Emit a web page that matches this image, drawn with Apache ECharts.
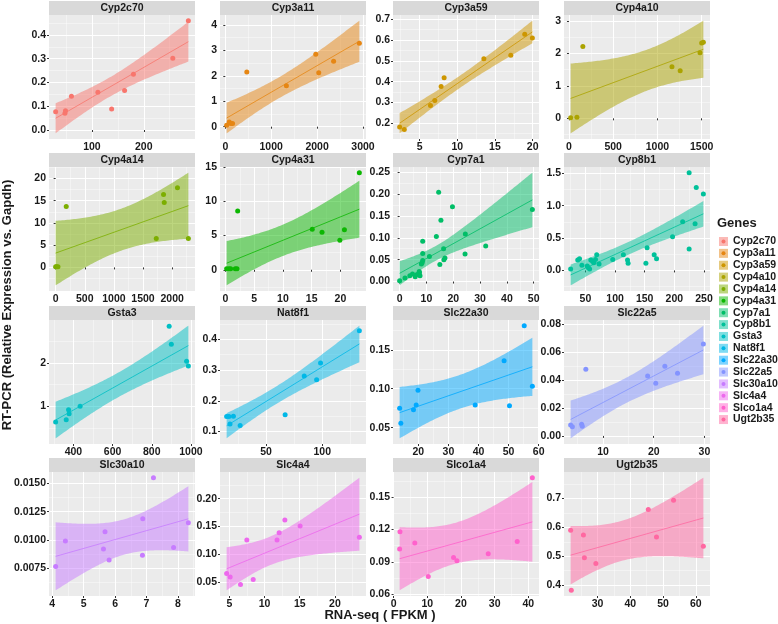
<!DOCTYPE html>
<html><head><meta charset="utf-8">
<script src="https://cdn.jsdelivr.net/npm/echarts@6/dist/echarts.min.js"></script>
<style>html,body{margin:0;padding:0;background:#fff}#c{width:778px;height:624px}</style>
</head><body><div id="c"></div>
<script>
const genes = ['Cyp2c70','Cyp3a11','Cyp3a59','Cyp4a10','Cyp4a14','Cyp4a31','Cyp7a1','Cyp8b1','Gsta3','Nat8f1','Slc22a30','Slc22a5','Slc30a10','Slc4a4','Slco1a4','Ugt2b35'];
const colors = ['#F8766D','#E68613','#CD9600','#ABA300','#7CAE00','#0CB702','#00BE67','#00C19A','#00BFC4','#00B8E7','#00A9FF','#8494FF','#C77CFF','#ED68ED','#FF61CC','#FF68A1'];

const cyp2c70X = [30,48,49,60.5,111.5,138,163,180,256,286];
const cyp2c70Y = [0.077,0.07,0.081,0.142,0.159,0.088,0.166,0.234,0.302,0.46];
const cyp3a11X = [29,86,122,158,468,1331,1971,2036,2360,2921];
const cyp3a11Y = [0.06,0.18,0.13,0.13,2.15,1.61,2.84,2.12,2.57,3.28];
const cyp3a59X = [2.36,2.98,6.45,7.02,7.86,8.26,13.53,17.1,18.95,19.96];
const cyp3a59Y = [0.182,0.17,0.285,0.309,0.376,0.419,0.51,0.527,0.628,0.61];
const cyp4a10X = [19,90,157,1164,1257,1481,1500,1519];
const cyp4a10Y = [0.02,0.03,2.21,1.59,1.46,2.02,2.32,2.34];
const cyp4a14X = [0,15,40,182,1727,1852,1864,2091,2278];
const cyp4a14Y = [0.14,0.14,0.14,13.7,6.5,16.4,14.6,17.9,6.5];
const cyp4a31X = [0.2,0.6,0.9,1.7,2.0,2.12,15.1,16.8,19.9,20.7,23.3];
const cyp4a31Y = [0.15,0.15,0.15,0.15,0.15,8.6,5.94,5.5,4.3,5.84,14.2];
const cyp7a1X = [0,2.0,3.8,4.8,5.8,6.5,7.4,7.3,7.6,8.1,8.4,8.6,8.6,8.6,11.1,13.7,14.55,15.0,15.4,16.4,16.5,16.9,19.7,24.4,24.5,32.1,49.5];
const cyp7a1Y = [0.002,0.008,0.013,0.017,0.011,0.016,0.02,0.023,0.013,0.04,0.043,0.048,0.064,0.092,0.057,0.103,0.204,0.039,0.14,0.075,0.05,0.054,0.171,0.063,0.109,0.081,0.165];
const cyp8b1X = [25,37,40,44,53,55,57,59,62,64,67,69,73,96,114,121,122,152,154,166,170,197,214,225,225,235,237,249];
const cyp8b1Y = [0.02,0.16,0.18,0.08,0.07,0.04,0.02,0.16,0.14,0.12,0.17,0.24,0.10,0.17,0.24,0.16,0.11,0.11,0.35,0.24,0.18,0.52,0.75,1.51,0.33,0.72,1.28,1.18];
const gsta3X = [309,363,375,378,434,889,900,978,987];
const gsta3Y = [0.64,0.69,0.92,0.83,1.0,2.85,2.43,2.04,1.93];
const nat8f1X = [15,17,21,18,27,67,84,95,98.5,133];
const nat8f1Y = [0.149,0.149,0.15,0.125,0.12,0.155,0.281,0.269,0.323,0.428];
const slc22a30X = [13.8,14.2,18.4,19.3,19.9,38.9,48.5,50.3,55.2,57.9];
const slc22a30Y = [0.075,0.0555,0.073,0.079,0.098,0.079,0.136,0.078,0.181,0.103];
const slc22a5X = [3.6,3.94,5.77,5.9,6.6,18.8,20.4,22.2,24.7,29.8];
const slc22a5Y = [0.0078,0.0066,0.0083,0.0069,0.0476,0.0428,0.0376,0.0497,0.0447,0.0656];
const slc30a10X = [4.11,4.42,5.63,5.68,5.81,6.87,6.88,7.22,7.86,8.33];
const slc30a10Y = [0.00765,0.00991,0.00919,0.01073,0.00823,0.00866,0.01186,0.0155,0.00933,0.01151];
const slc4a4X = [4.6,5.1,6.57,8.38,7.47,11.77,12.07,12.88,15.05,23.48];
const slc4a4Y = [0.0655,0.0595,0.0458,0.0548,0.126,0.126,0.139,0.162,0.151,0.131];
const slco1a4X = [1.8,1.9,6.3,10.3,17.8,18.8,28.1,36.7,41.2];
const slco1a4Y = [0.102,0.118,0.1075,0.0766,0.094,0.091,0.0975,0.109,0.168];
const ugt2b35X = [21.8,22,25.7,26,29.5,45.5,48,53.2,62.3];
const ugt2b35Y = [0.59,0.382,0.574,0.495,0.475,0.662,0.567,0.694,0.535];

const xTicks = [[100,200],[0,1000,2000,3000],[5,10,15,20],[0,500,1000,1500],[0,500,1000,1500,2000],[0,5,10,15,20],[0,10,20,30,40,50],[50,100,150,200,250],[400,600,800,1000],[50,100],[20,30,40,50,60],[10,20,30],[4,5,6,7,8],[5,10,15,20],[0,10,20,30,40],[30,40,50,60]];
const yTicks = [[0,0.1,0.2,0.3,0.4],[0,1,2,3,4],[0.2,0.3,0.4,0.5,0.6,0.7],[0,1,2,3],[0,5,10,15,20],[0,5,10,15],[0,0.05,0.1,0.15,0.2,0.25],[0,0.5,1,1.5],[1,2,3],[0.1,0.2,0.3,0.4],[0.05,0.1,0.15],[0,0.02,0.04,0.06,0.08],[0.0075,0.01,0.0125,0.015],[0.05,0.1,0.15,0.2],[0.06,0.09,0.12,0.15],[0.4,0.5,0.6,0.7]];
const yDecimals = [1,0,1,0,0,0,2,1,0,1,2,2,4,2,2,1];

const xData = [cyp2c70X,cyp3a11X,cyp3a59X,cyp4a10X,cyp4a14X,cyp4a31X,cyp7a1X,cyp8b1X,gsta3X,nat8f1X,slc22a30X,slc22a5X,slc30a10X,slc4a4X,slco1a4X,ugt2b35X];
const yData = [cyp2c70Y,cyp3a11Y,cyp3a59Y,cyp4a10Y,cyp4a14Y,cyp4a31Y,cyp7a1Y,cyp8b1Y,gsta3Y,nat8f1Y,slc22a30Y,slc22a5Y,slc30a10Y,slc4a4Y,slco1a4Y,ugt2b35Y];

// layout
const colLeft = [49,220,393,564];
const rowTop = [15,167,320,472];
const panelW = 146, panelH = 124, stripH = 14;
const FONT = 'Liberation Sans, Arial, Helvetica, sans-serif';
const TXT = '#1a1a1a';

const T975 = [NaN,12.706,4.303,3.182,2.776,2.571,2.447,2.365,2.306,2.262,2.228,2.201,2.179,2.160,2.145,2.131,2.120,2.110,2.101,2.093,2.086,2.080,2.074,2.069,2.064,2.060,2.056,2.052,2.048,2.045,2.042];
function tq(df){ return df < T975.length ? T975[df] : 2.03; }

function lmSmooth(xs, ys){
  const n = xs.length;
  const mx = xs.reduce((a,b)=>a+b,0)/n, my = ys.reduce((a,b)=>a+b,0)/n;
  let sxx=0, sxy=0;
  for (let i=0;i<n;i++){ sxx += (xs[i]-mx)**2; sxy += (xs[i]-mx)*(ys[i]-my); }
  const b = sxy/sxx, a = my - b*mx;
  let sse = 0;
  for (let i=0;i<n;i++){ sse += (ys[i]-(a+b*xs[i]))**2; }
  const s = Math.sqrt(sse/(n-2)), t = tq(n-2);
  const x0 = Math.min(...xs), x1 = Math.max(...xs);
  const up = [], lo = [];
  const K = 80;
  for (let k=0;k<K;k++){
    const x = x0 + (x1-x0)*k/(K-1);
    const f = a + b*x;
    const se = s*Math.sqrt(1/n + (x-mx)**2/sxx);
    up.push([x, f + t*se]); lo.push([x, f - t*se]);
  }
  return {a,b,x0,x1,up,lo,mx,my};
}

function hexA(hex, al){
  const r=parseInt(hex.slice(1,3),16), g=parseInt(hex.slice(3,5),16), b=parseInt(hex.slice(5,7),16);
  return `rgba(${r},${g},${b},${al})`;
}
function minors(ticks, lo, hi){
  const step = ticks[1]-ticks[0], t0 = ticks[0];
  const out = [];
  const kmin = Math.floor((lo - t0)/step) - 1, kmax = Math.ceil((hi - t0)/step) + 1;
  for (let k=kmin;k<=kmax;k++){ const v = t0 + (k+0.5)*step; if (v>lo && v<hi) out.push(+v.toFixed(10)); }
  return out;
}

const grid=[], xAxis=[], yAxis=[], series=[], graphic=[];
genes.forEach((g,i)=>{
  const col = i%4, row = Math.floor(i/4);
  const L = colLeft[col], T = rowTop[row];
  const xs = xData[i], ys = yData[i];
  const sm = lmSmooth(xs, ys);
  const xr = sm.x1 - sm.x0;
  const xmin = sm.x0 - 0.05*xr, xmax = sm.x1 + 0.05*xr;
  const allY = ys.concat(sm.up.map(p=>p[1]), sm.lo.map(p=>p[1]));
  const y0 = Math.min(...allY), y1 = Math.max(...allY), yr = y1-y0;
  const ymin = y0 - 0.05*yr, ymax = y1 + 0.05*yr;
  grid.push({left:L, top:T, width:panelW, height:panelH, show:true, backgroundColor:'#EBEBEB', borderWidth:0});
  const lab = {fontSize:10.5, fontWeight:'bold', color:TXT, fontFamily:FONT};
  xAxis.push({type:'value', gridIndex:i, position:'bottom', min:xmin, max:xmax,
    axisLine:{show:false},
    axisTick:{show:true, length:2, lineStyle:{color:'#333', width:1}, customValues:xTicks[i]},
    axisLabel:Object.assign({customValues:xTicks[i], margin:3, formatter:v=>String(v)}, lab),
    splitLine:{show:true, lineStyle:{color:'#ffffff', width:1}}});
  const xm = minors(xTicks[i], xmin, xmax);
  xAxis.push({type:'value', gridIndex:i, position:'top', min:xmin, max:xmax,
    axisLine:{show:false}, axisTick:{show:false, customValues:xm}, axisLabel:{show:false, customValues:xm},
    splitLine:{show:true, lineStyle:{color:'rgba(255,255,255,0.85)', width:0.5}}});
  yAxis.push({type:'value', gridIndex:i, position:'left', min:ymin, max:ymax,
    axisLine:{show:false},
    axisTick:{show:true, length:2, lineStyle:{color:'#333', width:1}, customValues:yTicks[i]},
    axisLabel:Object.assign({customValues:yTicks[i], margin:3, formatter:v=>v.toFixed(yDecimals[i])}, lab),
    splitLine:{show:true, lineStyle:{color:'#ffffff', width:1}}});
  const ym = minors(yTicks[i], ymin, ymax);
  yAxis.push({type:'value', gridIndex:i, position:'right', min:ymin, max:ymax,
    axisLine:{show:false}, axisTick:{show:false, customValues:ym}, axisLabel:{show:false, customValues:ym},
    splitLine:{show:true, lineStyle:{color:'rgba(255,255,255,0.85)', width:0.5}}});

  const poly = sm.up.concat(sm.lo.slice().reverse());
  series.push({type:'custom', name:g, xAxisIndex:2*i, yAxisIndex:2*i, silent:true, z:2,
    data:[[sm.mx, sm.my]],
    renderItem:(params, api)=>({type:'polygon', shape:{points: poly.map(p=>api.coord(p))}, style:{fill: hexA(colors[i],0.5)}})});
  series.push({type:'line', name:g, xAxisIndex:2*i, yAxisIndex:2*i, silent:true, z:3,
    symbol:'none', data:[[sm.x0, sm.a+sm.b*sm.x0],[sm.x1, sm.a+sm.b*sm.x1]],
    lineStyle:{color:colors[i], width:0.8}, itemStyle:{color:colors[i]}});
  series.push({type:'scatter', name:g, xAxisIndex:2*i, yAxisIndex:2*i, z:4,
    symbolSize:5, data: xs.map((x,j)=>[x, ys[j]]), itemStyle:{color:colors[i], opacity:1}});

  graphic.push({type:'rect', shape:{x:L, y:T-stripH, width:panelW, height:stripH}, style:{fill:'#D9D9D9'}, silent:true});
  graphic.push({type:'text', x:L+panelW/2, y:T-stripH/2, style:{text:g, font:'bold 10.5px '+FONT, fill:TXT, align:'center', verticalAlign:'middle'}, silent:true});
});

graphic.push({type:'text', x:7, y:305, rotation:Math.PI/2, style:{text:'RT-PCR (Relative Expression vs. Gapdh)', font:'bold 13px '+FONT, fill:TXT, align:'center', verticalAlign:'middle'}, silent:true});
graphic.push({type:'text', x:380, y:615, style:{text:'RNA-seq ( FPKM )', font:'bold 13px '+FONT, fill:TXT, align:'center', verticalAlign:'middle'}, silent:true});

const chart = echarts.init(document.getElementById('c'), null, {renderer:'canvas'});
chart.setOption({
  animation:false,
  textStyle:{fontFamily:FONT},
  title:{text:'Genes', left:717, top:217, padding:0, textStyle:{fontSize:13, fontWeight:'bold', color:TXT, fontFamily:FONT}},
  legend:[
    {orient:'vertical', left:719, top:236, itemWidth:9, itemHeight:9, itemGap:0.87, padding:0, selectedMode:false, icon:'rect',
     data: genes.map((g,i)=>({name:g, icon:'rect', itemStyle:{color:hexA(colors[i],0.5)}})),
     textStyle:{fontSize:10.5, fontWeight:'bold', color:TXT, lineHeight:9, fontFamily:FONT}},
    {orient:'vertical', left:721.5, top:236, itemWidth:4, itemHeight:9, itemGap:0.87, padding:0, selectedMode:false, icon:'circle',
     data: genes.map((g,i)=>({name:g, icon:'circle', itemStyle:{color:colors[i]}})),
     textStyle:{fontSize:10.5, fontWeight:'bold', color:'rgba(0,0,0,0)', lineHeight:9, fontFamily:FONT}}
  ],
  grid, xAxis, yAxis, series, graphic
});
</script>
</body></html>
